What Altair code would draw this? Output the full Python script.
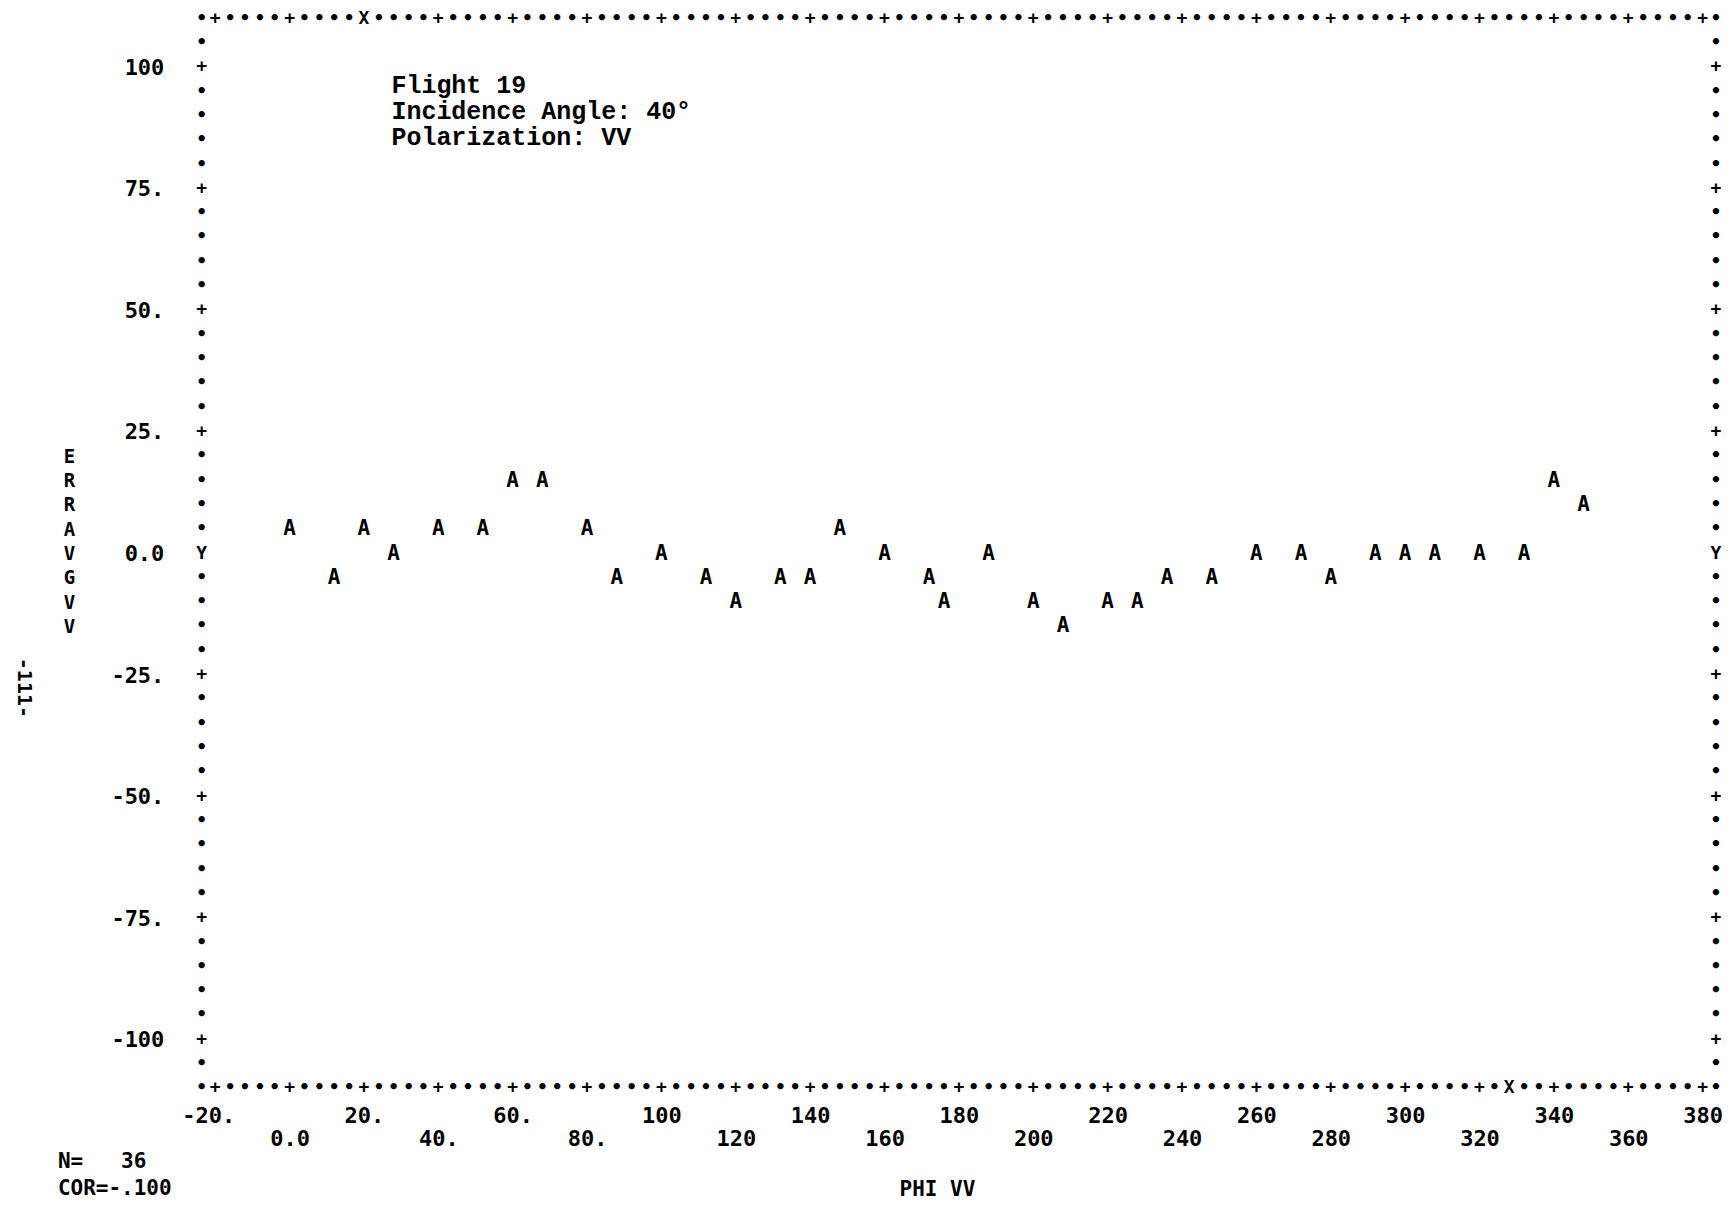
import altair as alt
import pandas as pd

# ---- data ----
phi = [0, 12, 20, 28, 40, 52, 60, 68, 80, 88, 100, 112, 120, 132, 140, 148, 160, 172,
       176, 188, 200, 208, 220, 228, 236, 248, 260, 272, 280, 292, 300, 308, 320, 332, 340, 348]
erravg = [5, -5, 5, 0, 5, 5, 15, 15, 5, -5, 0, -5, -10, -5, -5, 5, 0, -5,
          -10, 0, -10, -15, -10, -10, -5, -5, 0, 0, -5, 0, 0, 0, 0, 0, 15, 10]

x_tick_values = [-20, 0, 20, 40, 60, 80, 100, 120, 140, 160, 180, 200, 220, 240, 260, 280, 300, 320, 340, 360, 380]
x_tick_labels = ["-20.", "0.0", "20.", "40.", "60.", "80.", "100", "120", "140", "160", "180", "200",
                 "220", "240", "260", "280", "300", "320", "340", "360", "380"]
y_tick_values = [100, 75, 50, 25, 0, -25, -50, -75, -100]
y_tick_labels = ["100", "75.", "50.", "25.", "0.0", "-25.", "-50.", "-75.", "-100"]

note_lines = ["Flight 19", "Incidence Angle: 40\u00b0", "Polarization: VV"]
note_y = [96.4, 91.0, 85.6]
note_x = [27.4, 27.4, 27.4]

footer_lines = ["N=\u00a0\u00a0\u00a036", "COR=-.100"]
y_title_letters = ["E", "R", "R", "A", "V", "G", "V", "V"]

# frame of the line-printer plot
XMIN, XMAX = -23.6, 383.6
YMIN, YMAX = -110, 110
top_x_mark = 20
bottom_x_mark = 328

PF = "DejaVu Sans Mono"
TF = "Liberation Mono"

W, H = 1516, 1071

rows = []
for v in range(-20, 381, 4):
    ch = "+" if v % 20 == 0 else "\u2022"
    rows.append({"x": v, "y": YMAX, "c": "X" if v == top_x_mark else ch})
    rows.append({"x": v, "y": YMIN, "c": "X" if v == bottom_x_mark else ch})
for v in range(-105, 106, 5):
    ch = "Y" if v == 0 else ("+" if v % 25 == 0 else "\u2022")
    rows.append({"x": XMIN, "y": v, "c": ch})
    rows.append({"x": XMAX, "y": v, "c": ch})
for cx in (XMIN, XMAX):
    for cy in (YMIN, YMAX):
        rows.append({"x": cx, "y": cy, "c": "\u2022"})
border_df = pd.DataFrame(rows)

xscale = alt.Scale(domain=[XMIN, XMAX], nice=False, zero=False)
yscale = alt.Scale(domain=[YMIN, YMAX], nice=False, zero=False)


def lookup_expr(vals, labs):
    v = ",".join(str(a) for a in vals)
    l = ",".join("'" + s + "'" for s in labs)
    return "[" + l + "][indexof([" + v + "], datum.value)]"


xaxis = alt.Axis(
    values=x_tick_values, labelExpr=lookup_expr(x_tick_values, x_tick_labels),
    domain=False, ticks=False, tickSize=0, grid=False,
    labelFont=PF, labelFontSize=22, labelFontWeight="bold", labelColor="black",
    labelBaseline="middle", labelAlign="center", labelOverlap=False, labelFlush=False,
    labelPadding={"condition": {"test": "datum.value % 40 != 0", "value": 27}, "value": 50},
    labelOffset={"condition": {"test": "datum.value == -20", "value": -7}, "value": 0},
    title="PHI VV", titleFont=PF, titleFontSize=21, titleFontWeight="bold", titleColor="black",
    titleX=736, titleY=101, titleAlign="center", titleBaseline="middle",
)
yaxis = alt.Axis(
    values=y_tick_values, labelExpr=lookup_expr(y_tick_values, y_tick_labels),
    domain=False, ticks=False, tickSize=0, grid=False,
    labelFont=PF, labelFontSize=22, labelFontWeight="bold", labelColor="black",
    labelBaseline="middle", labelAlign="right", labelPadding=38, labelOverlap=False, labelFlush=False,
    title=y_title_letters, titleAngle=0, titleFont=PF, titleFontSize=19, titleFontWeight="bold",
    titleColor="black", titleX=-133, titleY=438, titleAlign="center", titleBaseline="middle",
    titleLineHeight=24.35,
)


def X(field):
    return alt.X(field, type="quantitative", scale=xscale, axis=xaxis)


def Y(field):
    return alt.Y(field, type="quantitative", scale=yscale, axis=yaxis)


df = pd.DataFrame({"phi": phi, "err": erravg})
points = alt.Chart(df).mark_text(
    text="A", font=PF, fontSize=21, fontWeight="bold", color="black", baseline="middle", align="center"
).encode(x=X("phi"), y=Y("err"))

border = alt.Chart(border_df).mark_text(
    font=PF, fontSize=18, fontWeight="bold", color="black", baseline="middle", align="center"
).encode(x=X("x"), y=Y("y"), text="c:N")

notes = alt.Chart(pd.DataFrame({"x": note_x, "y": note_y, "t": note_lines})).mark_text(
    font=TF, fontSize=25, fontWeight="bold", color="black", baseline="middle", align="left"
).encode(x=X("x"), y=Y("y"), text="t:N")

footer1 = alt.Chart(pd.DataFrame({"t": [footer_lines[0]]})).mark_text(
    font=PF, fontSize=21, fontWeight="bold", color="black", baseline="middle", align="left"
).encode(x=alt.value(-144), y=alt.value(1145), text="t:N")
footer2 = alt.Chart(pd.DataFrame({"t": [footer_lines[1]]})).mark_text(
    font=PF, fontSize=21, fontWeight="bold", color="black", baseline="middle", align="left"
).encode(x=alt.value(-144), y=alt.value(1172), text="t:N")

page = alt.Chart(pd.DataFrame({"t": ["-111-"]})).mark_text(
    font=PF, fontSize=20, fontWeight="bold", color="black", baseline="middle", align="center", angle=90
).encode(x=alt.value(-178), y=alt.value(670), text="t:N")

chart = alt.layer(points, border, notes, footer1, footer2, page).properties(
    width=W, height=H,
    autosize=alt.AutoSizeParams(type="none"),
    padding={"left": 194, "top": 10, "right": 10, "bottom": 112},
    background="white",
).configure_view(stroke=None)

chart.save("out.html", embed_options={"renderer": "svg", "actions": False})
